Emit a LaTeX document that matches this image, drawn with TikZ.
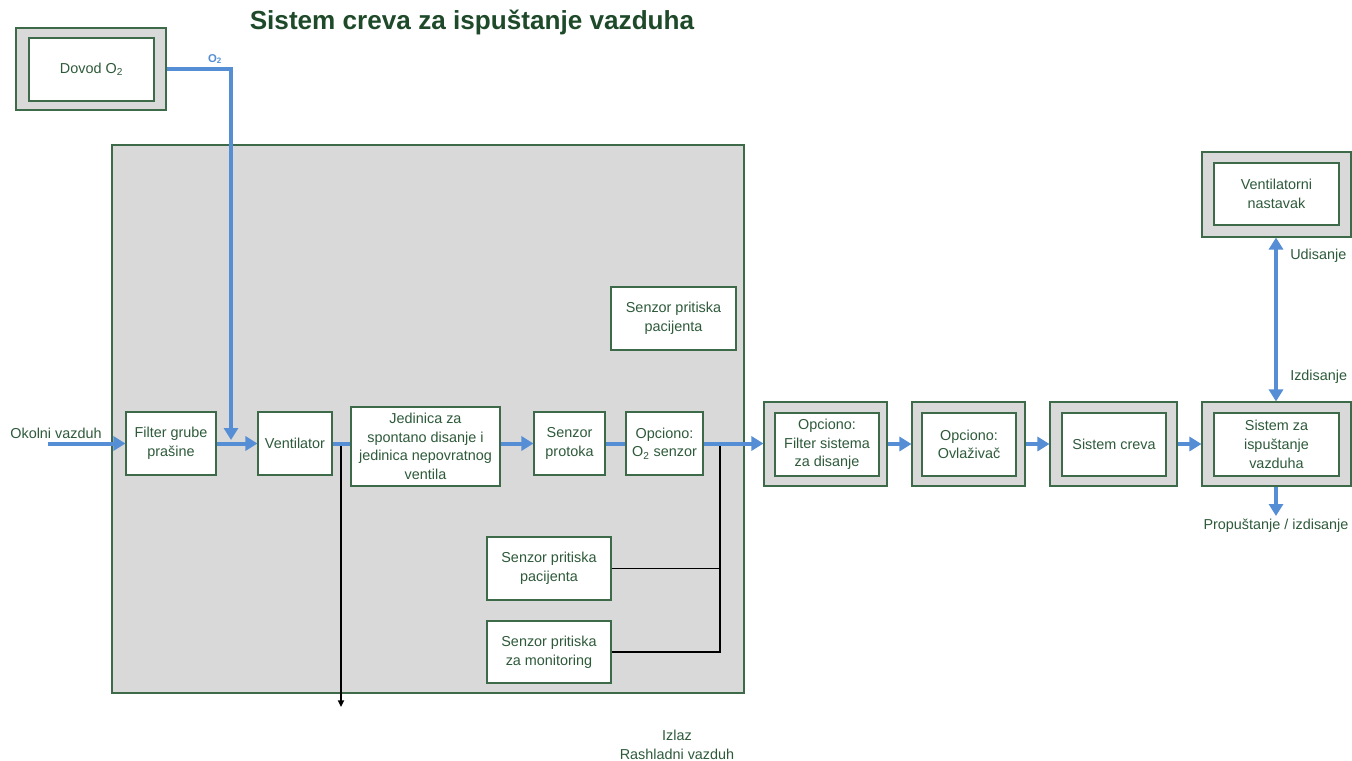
\documentclass[tikz,border=0pt]{standalone}
\usepackage{fontspec}
\setmainfont{Liberation Sans}
\usetikzlibrary{fit,arrows.meta}

\definecolor{txtgreen}{HTML}{2E5A3A}
\definecolor{titlegreen}{HTML}{1E4A2A}
\definecolor{edgegreen}{HTML}{3D6A48}
\definecolor{panelgray}{HTML}{D9D9D9}
\definecolor{flowblue}{HTML}{558ED5}

\newcommand{\boxfont}{\fontsize{10.8pt}{14pt}\selectfont}

\tikzset{
  panel/.style={draw=edgegreen, fill=panelgray, line width=0.8pt, inner sep=0pt},
  unitbox/.style={draw=edgegreen, fill=white, line width=0.8pt, inner sep=0pt},
  label/.style={text=txtgreen, align=center, font=\boxfont, inner sep=0pt},
  flowtip/.style={Triangle[length=9pt,width=10.5pt]},
  flow/.style={draw=flowblue, line width=3pt, -{Triangle[length=9pt,width=10.5pt]}},
  flowline/.style={draw=flowblue, line width=3pt},
  flowboth/.style={draw=flowblue, line width=3pt,
    {Triangle[length=9pt,width=10.5pt]}-{Triangle[length=9pt,width=10.5pt]}},
  signal/.style={draw=black, line width=1.2pt},
}

% a white box spanning two corners, with its text centred inside
\newcommand{\unitnode}[3]{%
  \node[unitbox, fit={#2}] (#1) {};
  \node[label] (#1-t) at (#1.center) {#3};}

\begin{document}
\begin{tikzpicture}[x=0.75pt,y=-0.75pt]
\useasboundingbox (0,0) rectangle (1352,760);

% title
\node[text=titlegreen, font=\fontsize{19.6pt}{23pt}\selectfont\bfseries, inner sep=0pt]
  (title) at (472,22) {Sistem creva za ispuštanje vazduha};

% oxygen supply
\node[panel, fit={(16,28) (166,110)}] (dovodO) {};
\unitnode{dovod}{(29,38) (154,101)}{Dovod O\textsubscript{2}}

% ventilator unit housing
\node[panel, fit={(112,145) (744,693)}] (unit) {};

% components inside the housing
\unitnode{filt}{(126,412) (216,475)}{Filter grube\\prašine}
\unitnode{vent}{(258,412) (332,475)}{Ventilator}
\unitnode{jed}{(351,407) (500,486)}{Jedinica za\\spontano disanje i\\jedinica nepovratnog\\ventila}
\unitnode{flowsens}{(534,412) (605,475)}{Senzor\\protoka}
\unitnode{oxsens}{(626,412) (703,475)}{Opciono:\\O\textsubscript{2} senzor}
\unitnode{pat1}{(611,287) (736,350)}{Senzor pritiska\\pacijenta}
\unitnode{pat2}{(487,537) (611,600)}{Senzor pritiska\\pacijenta}
\unitnode{mon}{(487,621) (611,683)}{Senzor pritiska\\za monitoring}

% external components
\node[panel, fit={(764,402) (887,486)}] (bfO) {};
\unitnode{bf}{(775,413) (879,476)}{Opciono:\\Filter sistema\\za disanje}
\node[panel, fit={(912,402) (1025,486)}] (humO) {};
\unitnode{hum}{(922,413) (1016,476)}{Opciono:\\Ovlaživač}
\node[panel, fit={(1050,402) (1177,486)}] (hoseO) {};
\unitnode{hose}{(1062,413) (1166,476)}{Sistem creva}
\node[panel, fit={(1202,402) (1351,486)}] (exhO) {};
\unitnode{exh}{(1214,413) (1339,476)}{Sistem za\\ispuštanje\\vazduha}
\node[panel, fit={(1202,152) (1351,237)}] (attO) {};
\unitnode{att}{(1214,163) (1339,225)}{Ventilatorni\\nastavak}

% free ends and junctions
\coordinate (ambient) at (48,443.5);
\coordinate (o2turn) at (231,69);
\coordinate (o2in) at (231,440);
\coordinate (tapvent) at (341,443.5);
\coordinate (coolout) at (341,707);
\coordinate (tapox) at (720,443.5);
\coordinate (leak) at (1276,516);

% pressure sensing lines
\draw[signal] (tapox) -- (tapox |- mon.east) -- (mon.east);
\draw[signal] (pat2.east) -- (pat2.east -| tapox);
% cooling air outlet
\draw[signal, -{Triangle[length=5pt,width=4.5pt]}] (tapvent) -- (coolout);

% gas flow
\draw[flow] (ambient) -- (filt.west);
\draw[flow] (filt.east) -- (vent.west);
\draw[flow] (dovodO.east) -- (o2turn) -- (o2in);
\draw[flowline] (vent.east) -- (vent.east -| jed.west);
\draw[flow] (jed.east |- flowsens.west) -- (flowsens.west);
\draw[flowline] (flowsens.east) -- (oxsens.west);
\draw[flow] (oxsens.east) -- (oxsens.east -| bfO.west);
\draw[flow] (bfO.east) -- (humO.west);
\draw[flow] (humO.east) -- (hoseO.west);
\draw[flow] (hoseO.east) -- (exhO.west);
\draw[flowboth] (attO.south -| leak) -- (exhO.north -| leak);
\draw[flow] (exhO.south -| leak) -- (leak);

% labels
\node[text=flowblue, font=\fontsize{8.5pt}{9pt}\selectfont\bfseries, inner sep=0pt]
  (o2lbl) at (215,59) {O\textsubscript{2}};
\node[label] (ambientlbl) at (56,433) {Okolni vazduh};
\node[label, anchor=west] (inlbl) at (1290,256) {Udisanje};
\node[label, anchor=west] (exlbl) at (1290,377) {Izdisanje};
\node[label] (leaklbl) at (1276,526) {Propuštanje / izdisanje};
\node[label] (coollbl) at (677,745) {Izlaz\\Rashladni vazduh};
\end{tikzpicture}
\end{document}
